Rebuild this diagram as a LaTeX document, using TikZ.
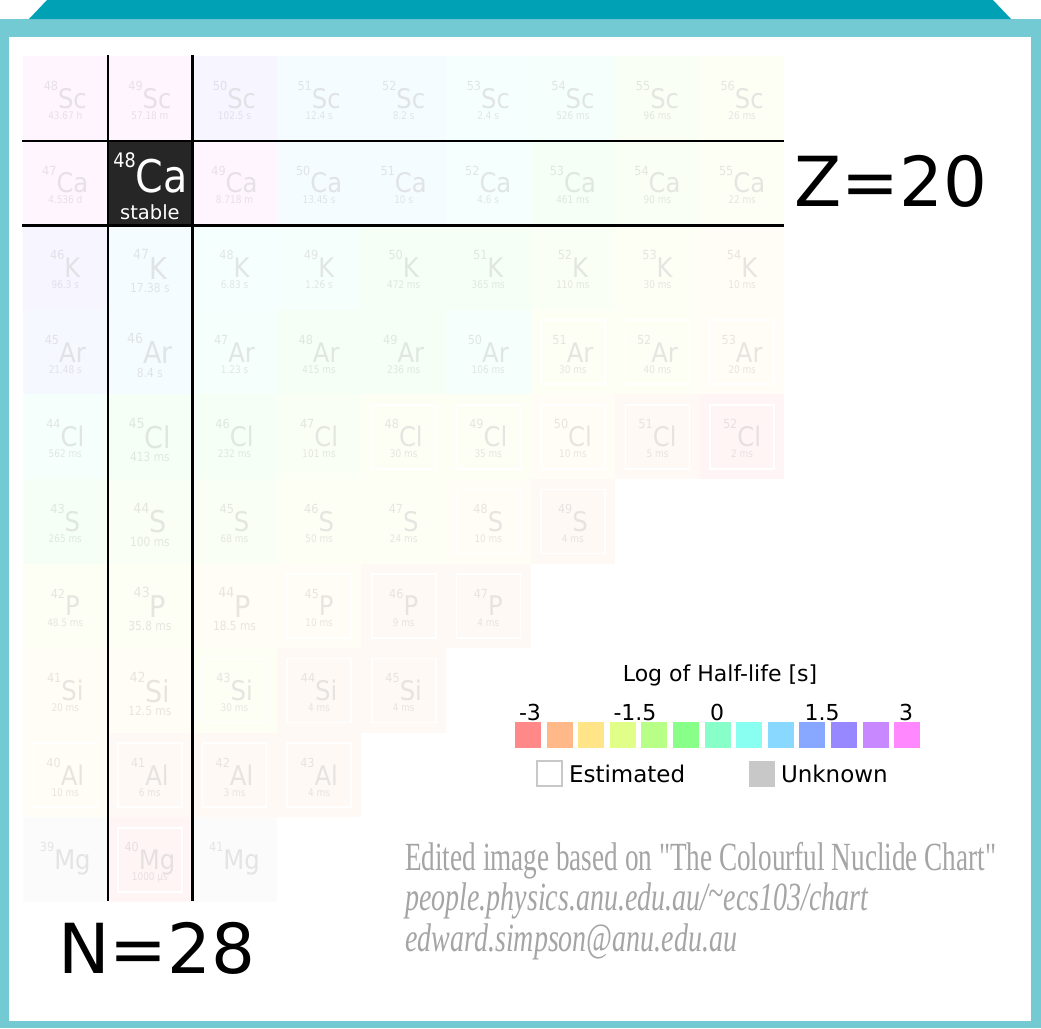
\documentclass[tikz,border=0pt]{standalone}
\usepackage{fontspec}
\setmainfont{DejaVu Sans}
\newfontfamily\credfont{Liberation Serif}
\definecolor{tealdark}{RGB}{0,160,181}
\definecolor{teallight}{RGB}{116,202,211}
\definecolor{hR}{RGB}{255,136,136}
\definecolor{hO}{RGB}{255,184,136}
\definecolor{hY}{RGB}{255,228,136}
\definecolor{hYG}{RGB}{225,255,136}
\definecolor{hLG}{RGB}{184,255,136}
\definecolor{hG}{RGB}{136,255,136}
\definecolor{hA}{RGB}{136,255,200}
\definecolor{hC}{RGB}{136,255,240}
\definecolor{hS}{RGB}{136,216,255}
\definecolor{hB}{RGB}{136,168,255}
\definecolor{hP}{RGB}{152,136,255}
\definecolor{hV}{RGB}{200,136,255}
\definecolor{hM}{RGB}{255,136,255}
\definecolor{hU}{RGB}{200,200,200}
\definecolor{credgray}{RGB}{165,165,165}
\definecolor{unkgray}{RGB}{200,200,200}
\definecolor{cadark}{RGB}{38,38,38}
\newcommand\fsz[1]{\fontsize{#1}{#1}\selectfont}
\begin{document}
\begin{tikzpicture}[x=1pt,y=-1pt,
  cellbox/.style={minimum size=84.6pt, inner sep=0pt, outer sep=0pt, draw=none},
  estbox/.style={minimum size=64pt, inner sep=0pt, draw=white, line width=1.6pt},
  legsq/.style={minimum size=26pt, inner sep=0pt, outer sep=0pt},
  gridline/.style={black, line width=2.2pt},
  plain/.style={inner sep=0pt, outer sep=0pt, anchor=base},
  credit/.style={inner sep=0pt, anchor=base west, text=credgray}
]
\useasboundingbox (0,0) rectangle (1041,1028);
\fill[white] (0,0) rectangle (1041,1028);
\fill[teallight] (0,19) rectangle (1041,1028);
\fill[white] (9,37) rectangle (1031,1021);
\fill[tealdark] (29,19) -- (47,0) -- (993,0) -- (1011,19) -- cycle;

% nuclide cells
\foreach \Nc/\Nr/\NA/\Ns/\Nh/\Nk/\Ne/\Nb in {
 0/0/48/Sc/43.67 h/hM/0/0, 1/0/49/Sc/57.18 m/hM/0/0, 2/0/50/Sc/102.5 s/hP/0/0,
 3/0/51/Sc/12.4 s/hS/0/0, 4/0/52/Sc/8.2 s/hS/0/0, 5/0/53/Sc/2.4 s/hC/0/0,
 6/0/54/Sc/526 ms/hA/0/0, 7/0/55/Sc/96 ms/hLG/0/0, 8/0/56/Sc/26 ms/hYG/0/0,
 0/1/47/Ca/4.536 d/hM/0/0, 2/1/49/Ca/8.718 m/hM/0/0, 3/1/50/Ca/13.45 s/hS/0/0,
 4/1/51/Ca/10 s/hS/0/0, 5/1/52/Ca/4.6 s/hC/0/0, 6/1/53/Ca/461 ms/hG/0/0,
 7/1/54/Ca/90 ms/hLG/0/0, 8/1/55/Ca/22 ms/hYG/0/0,
 0/2/46/K/96.3 s/hP/0/0, 1/2/47/K/17.38 s/hS/0/1, 2/2/48/K/6.83 s/hC/0/0,
 3/2/49/K/1.26 s/hA/0/0, 4/2/50/K/472 ms/hG/0/0, 5/2/51/K/365 ms/hG/0/0,
 6/2/52/K/110 ms/hLG/0/0, 7/2/53/K/30 ms/hYG/0/0, 8/2/54/K/10 ms/hY/0/0,
 0/3/45/Ar/21.48 s/hB/0/0, 1/3/46/Ar/8.4 s/hS/0/1, 2/3/47/Ar/1.23 s/hA/0/0,
 3/3/48/Ar/415 ms/hG/0/0, 4/3/49/Ar/236 ms/hG/0/0, 5/3/50/Ar/106 ms/hA/0/0,
 6/3/51/Ar/30 ms/hYG/1/0, 7/3/52/Ar/40 ms/hYG/1/0, 8/3/53/Ar/20 ms/hY/1/0,
 0/4/44/Cl/562 ms/hA/0/0, 1/4/45/Cl/413 ms/hG/0/1, 2/4/46/Cl/232 ms/hG/0/0,
 3/4/47/Cl/101 ms/hLG/0/0, 4/4/48/Cl/30 ms/hYG/1/0, 5/4/49/Cl/35 ms/hYG/1/0,
 6/4/50/Cl/10 ms/hY/1/0, 7/4/51/Cl/5 ms/hO/1/0, 8/4/52/Cl/2 ms/hR/1/0,
 0/5/43/S/265 ms/hG/0/0, 1/5/44/S/100 ms/hLG/0/1, 2/5/45/S/68 ms/hLG/0/0,
 3/5/46/S/50 ms/hYG/0/0, 4/5/47/S/24 ms/hYG/0/0, 5/5/48/S/10 ms/hY/1/0,
 6/5/49/S/4 ms/hO/1/0,
 0/6/42/P/48.5 ms/hYG/0/0, 1/6/43/P/35.8 ms/hYG/0/1, 2/6/44/P/18.5 ms/hY/0/1,
 3/6/45/P/10 ms/hY/1/0, 4/6/46/P/9 ms/hO/1/0, 5/6/47/P/4 ms/hO/1/0,
 0/7/41/Si/20 ms/hY/0/0, 1/7/42/Si/12.5 ms/hY/0/1, 2/7/43/Si/30 ms/hYG/1/0,
 3/7/44/Si/4 ms/hO/1/0, 4/7/45/Si/4 ms/hO/1/0,
 0/8/40/Al/10 ms/hY/1/0, 1/8/41/Al/6 ms/hO/1/0, 2/8/42/Al/3 ms/hO/1/0,
 3/8/43/Al/4 ms/hO/1/0,
 0/9/39/Mg/{}/hU/0/0, 1/9/40/Mg/1000 µs/hR/1/0, 2/9/41/Mg/{}/hU/0/0}
{
  \pgfmathsetmacro\cx{65.3+84.6*\Nc}
  \pgfmathsetmacro\cy{98.3+84.6*\Nr}
  \ifnum\Nb=1
    \def\SZ{30}\def\SP{14}\def\HS{12.5}\def\SB{11.5}\def\HB{25}
  \else
    \def\SZ{27}\def\SP{12.5}\def\HS{10.5}\def\SB{10}\def\HB{21}
  \fi
  \pgfmathsetmacro\RZ{0.66*\SZ}
  \node[cellbox, fill=\Nk!8!white] (cell-\NA\Ns) at (\cx,\cy) {};
  \ifnum\Ne=1 \node[estbox] (est-\NA\Ns) at (\cx,\cy) {};\fi
  \node[plain, text depth=0pt, text=\Nk!30!black!14!white] (sym-\NA\Ns) at (\cx,\cy+\SB)
    {\scalebox{0.9}[1]{\fsz{\SP}\raisebox{\RZ pt}{\NA}\fsz{\SZ}\Ns}};
  \node[plain, text height=0.75*\HS pt, text depth=0pt, text=\Nk!30!black!14!white] (hl-\NA\Ns) at (\cx,\cy+\HB)
    {\scalebox{0.85}[1]{\fsz{\HS}\Nh}};
}

% 48Ca
\node[cellbox, fill=cadark] (cell-48Ca) at (149.9,182.9) {};
\node[plain, text depth=0pt, text=white] (sym-48Ca) at (150.5,192)
  {\scalebox{0.88}[1]{\fsz{20}\raisebox{25pt}{48}\fsz{45}Ca}};
\node[plain, text height=14pt, text=white] (hl-48Ca) at (149.9,219) {\fsz{19.5}stable};

% magic-number lines
\coordinate (v1t) at (107.9,55);  \coordinate (v1b) at (107.9,901);
\coordinate (v2t) at (192.5,55);  \coordinate (v2b) at (192.5,901);
\coordinate (h1l) at (22,140.6);  \coordinate (h1r) at (784,140.6);
\coordinate (h2l) at (22,225.4);  \coordinate (h2r) at (784,225.4);
\draw[gridline] (v1t) -- (v1b);
\draw[gridline] (v2t) -- (v2b);
\draw[gridline] (h1l) -- (h1r);
\draw[gridline] (h2l) -- (h2r);

% labels
\node[plain, font=\fsz{69}] (zlab) at (891,206) {Z=20};
\node[plain, font=\fsz{69}] (nlab) at (157,973) {N=28};

% legend
\node[plain, font=\fsz{22}] (legtitle) at (720,681) {Log of Half-life [s]};
\foreach \k/\col in {0/hR,1/hO,2/hY,3/hYG,4/hLG,5/hG,6/hA,7/hC,8/hS,9/hB,10/hP,11/hV,12/hM}{
  \node[legsq, fill=\col] (lq\k) at (528+31.6*\k,734.5) {};
}
\node[plain, font=\fsz{22}] (t1) at (530,720) {-3};
\node[plain, font=\fsz{22}] (t2) at (635,720) {-1.5};
\node[plain, font=\fsz{22}] (t3) at (717,720) {0};
\node[plain, font=\fsz{22}] (t4) at (822,720) {1.5};
\node[plain, font=\fsz{22}] (t5) at (906,720) {3};
\node[legsq, minimum size=25pt, draw=unkgray, line width=2pt, fill=white] (estsq) at (549,773.5) {};
\node[plain, anchor=base west, font=\fsz{23}] (esttxt) at (569,782) {Estimated};
\node[legsq, fill=unkgray] (unksq) at (761.5,773.5) {};
\node[plain, anchor=base west, font=\fsz{23}] (unktxt) at (781,782) {Unknown};

% credits
\node[credit] (cr1) at (405,870) {\scalebox{0.68}[1]{\credfont\fsz{40}Edited image based on "The Colourful Nuclide Chart"}};
\node[credit] (cr2) at (405,910) {\scalebox{0.70}[1]{\credfont\itshape\fsz{40}people.physics.anu.edu.au/\raisebox{0.2ex}{\char"007E}ecs103/chart}};
\node[credit] (cr3) at (405,951) {\scalebox{0.70}[1]{\credfont\itshape\fsz{40}edward.simpson@anu.edu.au}};
\end{tikzpicture}
\end{document}
